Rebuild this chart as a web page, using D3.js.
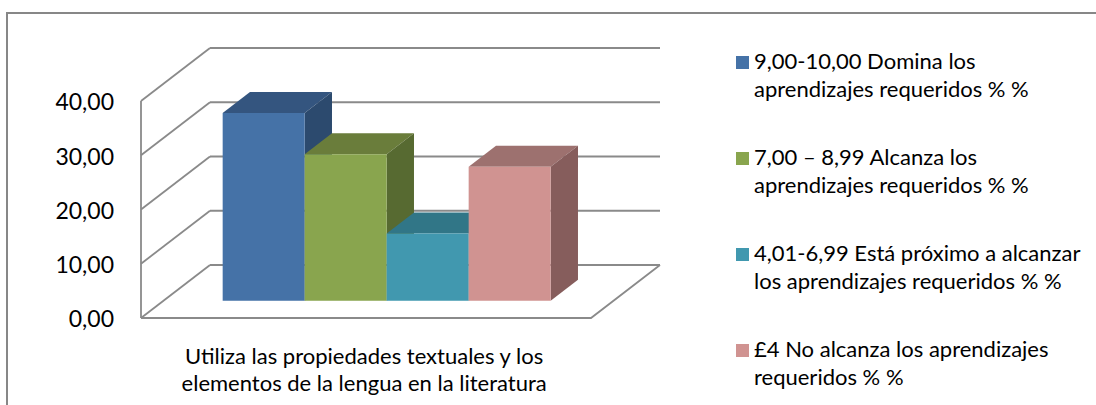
<!DOCTYPE html>
<html>
<head>
<meta charset="utf-8">
<script src="https://cdn.jsdelivr.net/npm/d3@7"></script>
<style>
  html, body { margin: 0; padding: 0; background: #fff; }
  svg { display: block; font-family: Lato, "Open Sans", sans-serif; }
</style>
</head>
<body>
<div id="chart"></div>
<script>
// datos
const categories = ["Utiliza las propiedades textuales y los elementos de la lengua en la literatura"];
const series = [
    "9,00-10,00 Domina los aprendizajes requeridos % %",
    "7,00 – 8,99 Alcanza los aprendizajes requeridos % %",
    "4,01-6,99 Está próximo a alcanzar los aprendizajes requeridos % %",
    "£4 No alcanza los aprendizajes requeridos % %"
];
const values = [34.6, 27.0, 12.4, 24.7];
const yTicks = [0, 10, 20, 30, 40];
const yTickLabels = ["0,00", "10,00", "20,00", "30,00", "40,00"];

// colores: frente, techo, lado
const colors = [
    { front: "#4572A7", top: "#34557F", side: "#2C4A6E" },
    { front: "#89A54E", top: "#6A7D3B", side: "#576A31" },
    { front: "#4198AF", top: "#317687", side: "#2A6473" },
    { front: "#D09391", top: "#9D716F", side: "#865D5C" }
];

const W = 1096, H = 405;

const svg = d3.select("#chart")
    .append("svg")
    .attr("width", W)
    .attr("height", H);

// marco exterior del grafico
svg.append("rect")
    .attr("x", 7).attr("y", 13)
    .attr("width", 1300).attr("height", 700)
    .attr("fill", "none")
    .attr("stroke", "#878787")
    .attr("stroke-width", 2);

const y = d3.scaleLinear().domain([0, 40]).range([318, 101]);

const x0 = d3.scaleBand()
    .domain(categories)
    .range([141, 591])
    .paddingInner(0)
    .paddingOuter(0.186)
    .align(0.485);

const x1 = d3.scaleBand()
    .domain(series)
    .range([0, x0.bandwidth()]);

// profundidad (proyeccion oblicua)
const depthX = d3.scaleLinear().domain([0, 1]).range([0, 69]);
const depthY = d3.scaleLinear().domain([0, 1]).range([0, -53]);
const zFront = 0.326, zBack = 0.722;

const p = (x, v, z) => [x + depthX(z), y(v) + depthY(z)];
const poly = pts => d3.line()(pts) + "Z";

const [xa, xb] = x0.range();
const grid = svg.append("g")
    .attr("fill", "none")
    .attr("stroke", "#8A8A8A")
    .attr("stroke-width", 1.8);

// pared del fondo y pared izquierda
yTicks.forEach(t => {
    grid.append("path").attr("d", d3.line()([p(xa, t, 1), p(xb, t, 1)]));
    grid.append("path").attr("d", d3.line()([p(xa, t, 0), p(xa, t, 1)]));
});
// eje vertical frontal y piso
grid.append("path").attr("d", d3.line()([p(xa, 0, 0), p(xa, 40, 0)]));
grid.append("path").attr("d", d3.line()([p(xa, 0, 0), p(xb, 0, 0), p(xb, 0, 1)]));

// barras
const bars = svg.append("g");
series.forEach((s, i) => {
    const v = values[i];
    const xl = x0(categories[0]) + x1(s);
    const xr = xl + x1.bandwidth();
    const g = bars.append("g");
    g.append("path")
        .attr("d", poly([p(xl, v, zFront), p(xr, v, zFront), p(xr, v, zBack), p(xl, v, zBack)]))
        .attr("fill", colors[i].top);
    g.append("path")
        .attr("d", poly([p(xr, 0, zFront), p(xr, 0, zBack), p(xr, v, zBack), p(xr, v, zFront)]))
        .attr("fill", colors[i].side);
    g.append("path")
        .attr("d", poly([p(xl, 0, zFront), p(xr, 0, zFront), p(xr, v, zFront), p(xl, v, zFront)]))
        .attr("fill", colors[i].front);
});

// etiquetas eje Y
svg.append("g")
    .selectAll("text")
    .data(yTicks)
    .enter()
    .append("text")
    .attr("x", 114)
    .attr("y", d => y(d) + 1)
    .attr("dy", "0.36em")
    .attr("text-anchor", "end")
    .style("font-size", "23px")
    .attr("fill", "#000")
    .text((d, i) => yTickLabels[i]);

function wrap(sel, width, lineH) {
    sel.each(function () {
        const text = d3.select(this);
        const words = text.text().split(/\s+/);
        const x = text.attr("x");
        text.text(null);
        let line = [];
        let n = 0;
        let tspan = text.append("tspan").attr("x", x).attr("dy", 0);
        words.forEach(w => {
            line.push(w);
            tspan.text(line.join(" "));
            if (tspan.node().getComputedTextLength() > width && line.length > 1) {
                line.pop();
                tspan.text(line.join(" "));
                line = [w];
                n++;
                tspan = text.append("tspan").attr("x", x).attr("dy", lineH).text(w);
            }
        });
    });
}

// etiqueta de categoria
svg.append("text")
    .attr("x", x0(categories[0]) + x0.bandwidth() / 2)
    .attr("y", 364)
    .attr("text-anchor", "middle")
    .style("font-size", "22px")
    .attr("fill", "#000")
    .text(categories[0])
    .call(wrap, 390, 27);

// leyenda
const legend = svg.append("g");
series.forEach((s, i) => {
    const by = 69 + i * 96;
    legend.append("rect")
        .attr("x", 736).attr("y", by - 13)
        .attr("width", 13).attr("height", 13)
        .attr("fill", colors[i].front);
    legend.append("text")
        .attr("x", 754)
        .attr("y", by)
        .style("font-size", "22px")
        .attr("fill", "#000")
        .text(s)
        .call(wrap, 334, 28);
});
</script>
</body>
</html>
